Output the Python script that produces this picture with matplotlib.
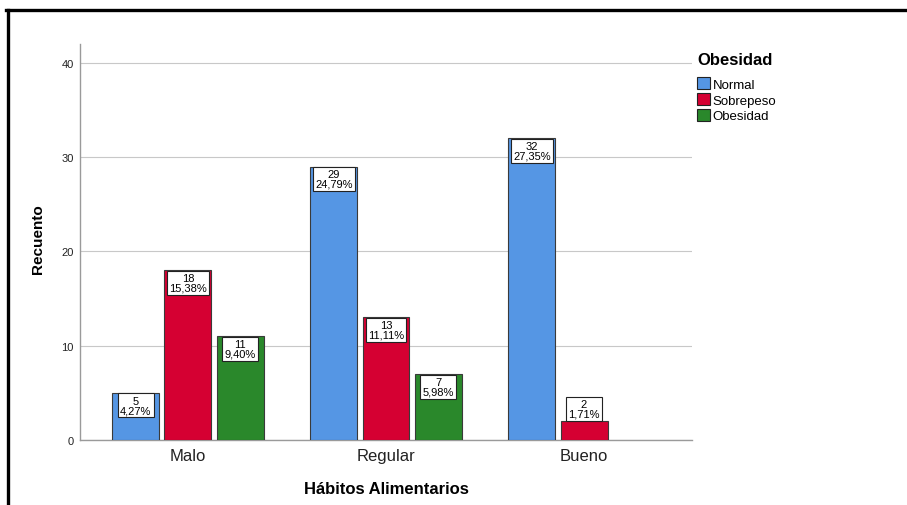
import matplotlib
matplotlib.use("Agg")
import matplotlib.pyplot as plt
import numpy as np
from matplotlib.patches import Patch
from matplotlib.lines import Line2D

plt.rcParams['font.family'] = ['Liberation Sans', 'DejaVu Sans']

# data
habitos = ['Malo', 'Regular', 'Bueno']
series = ['Normal', 'Sobrepeso', 'Obesidad']
normal = [5, 29, 32]
sobrepeso = [18, 13, 2]
obesidad = [11, 7, 0]
pct_normal = ['4,27%', '24,79%', '27,35%']
pct_sobrepeso = ['15,38%', '11,11%', '1,71%']
pct_obesidad = ['9,40%', '5,98%', '']
colors = ['#5596E4', '#D50032', '#2A882B']

fig = plt.figure(figsize=(9.07, 5.06), dpi=100)
ax = fig.add_axes([80 / 907, 1 - 441 / 506, 612 / 907, 396 / 506])

x = np.arange(len(habitos))
width = 0.237
step = 0.263
values = [normal, sobrepeso, obesidad]
pcts = [pct_normal, pct_sobrepeso, pct_obesidad]

for i, (vals, pc, col) in enumerate(zip(values, pcts, colors)):
    pos = x + (i - 1) * step
    for p, v, t in zip(pos, vals, pc):
        if v == 0:
            continue
        ax.bar(p, v, width=width, color=col, edgecolor='#3a3a3a', linewidth=0.8, zorder=3)
        label = f'{v}\n{t}'
        # label box sits inside the bar top, or above it if the bar is too short
        if v >= 3:
            off, va = -2, 'top'
        else:
            off, va = 2, 'bottom'
        ax.annotate(label, xy=(p, v), xytext=(0, off), textcoords='offset points',
                    ha='center', va=va, fontsize=8, linespacing=0.95, zorder=4,
                    bbox=dict(boxstyle='square,pad=0.2', fc='white', ec='#222222', lw=0.8))

ax.set_xlim(-0.545, 2.545)
ax.set_ylim(0, 42)
ax.set_yticks([0, 10, 20, 30, 40])
ax.set_xticks(x)
ax.set_xticklabels(habitos, fontsize=12, color='#222222')
ax.tick_params(axis='y', labelsize=8, length=0, pad=4.5, colors='#222222')
ax.tick_params(axis='x', length=0, pad=6)
ax.yaxis.grid(True, color='#c8c8c8', linewidth=0.8, zorder=0)
ax.set_axisbelow(True)
for s in ['top', 'right']:
    ax.spines[s].set_visible(False)
for s in ['left', 'bottom']:
    ax.spines[s].set_color('#9a9a9a')
    ax.spines[s].set_linewidth(1.0)

ax.set_ylabel('Recuento', fontsize=11, fontweight='bold')
ax.yaxis.set_label_coords(-0.057, 0.51)
ax.set_xlabel('Hábitos Alimentarios', fontsize=12, fontweight='bold', labelpad=13)

handles = [Patch(facecolor=c, edgecolor='#222222', linewidth=0.8) for c in colors]
leg = fig.legend(handles, series, loc='upper left', bbox_to_anchor=(697 / 907, 1 - 53 / 506),
                 frameon=False, prop={'size': 9.5}, title='Obesidad',
                 title_fontproperties={'weight': 'bold', 'size': 12},
                 handlelength=0.95, handleheight=0.95, handletextpad=0.25,
                 labelspacing=0.2, borderpad=0, borderaxespad=0)
leg._legend_box.align = 'left'
leg._legend_box.sep = 7.5  # gap between title and entries

# outer frame lines
fig.add_artist(Line2D([6 / 907, 1], [1 - 11 / 506, 1 - 11 / 506], color='black', lw=2.4))
fig.add_artist(Line2D([8 / 907, 8 / 907], [0, 1 - 11 / 506], color='black', lw=2.4))

fig.savefig('out.png', dpi=100)
